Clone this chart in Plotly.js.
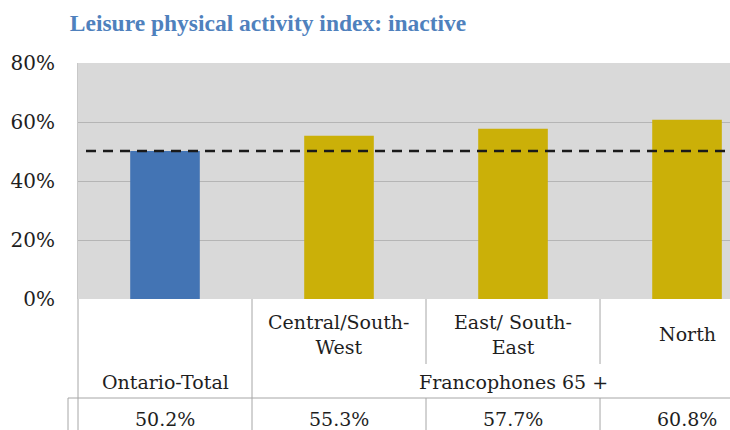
<!DOCTYPE html>
<html>
<head>
<meta charset="utf-8">
<script src="https://cdn.plot.ly/plotly-3.0.1.min.js"></script>
<style>html,body{margin:0;padding:0;background:#fff;}#chart{width:730px;height:430px;}</style>
</head>
<body>
<div id="chart"></div>
<script>
// ---- data ----
var categories = ["Ontario-Total", "Central/South-West", "East/ South-East", "North"];
var categoryLabels = ["Ontario-Total", "Central/South-<br>West", "East/ South-<br>East", "North"];
var values = [50.2, 55.3, 57.7, 60.8];
var groupLabel = "Francophones 65 +";
var referenceValue = 50.2; // Ontario-Total
var yTicks = [0, 20, 40, 60, 80];

// ---- layout constants ----
var W = 730, H = 430;
var mL = 78, mR = 0, mT = 63, mB = 131;
var plotH = H - mT - mB;
var xRange = [-0.5, 3.247];
function px(i) { return (i - xRange[0]) / (xRange[1] - xRange[0]); } // category index -> paper x
function py(p) { return (H - mB - p) / plotH; }                         // pixel y -> paper y

var serif = "DejaVu Serif, Liberation Serif, serif";
var textColor = "#1E1E1E";
var lineColor = "#A6A6A6";

var trace = {
  type: "bar",
  x: categories,
  y: values,
  width: 0.4,
  marker: { color: ["#4374B4", "#CBB008", "#CBB008", "#CBB008"], line: { width: 0 } },
  hoverinfo: "none"
};

var shapes = [];
// reference dashed line
shapes.push({ type: "line", xref: "paper", yref: "y", x0: (86 - mL) / (W - mL), x1: 1, y0: referenceValue, y1: referenceValue,
  line: { color: "#1A1A1A", width: 2.5, dash: "10px,7px" }, layer: "above" });
// table lines
function vline(xp, y0p, y1p) {
  shapes.push({ type: "line", xref: "paper", yref: "paper", x0: xp, x1: xp, y0: py(y0p), y1: py(y1p), line: { color: lineColor, width: 1 } });
}
vline(px(-0.5), 299, 430);
vline(px(0.5), 299, 430);
vline(px(1.5), 299, 364);
vline(px(2.5), 299, 364);
vline(px(1.5), 398, 430);
vline(px(2.5), 398, 430);
vline(-10 / (W - mL), 398, 430);
shapes.push({ type: "line", xref: "paper", yref: "paper", x0: -10 / (W - mL), x1: 1, y0: py(398), y1: py(398), line: { color: lineColor, width: 1 } });

var annotations = [];
var labelFont = { family: serif, size: 19, color: textColor };
// category labels
for (var i = 1; i < categories.length; i++) {
  annotations.push({ xref: "x", yref: "paper", x: i, y: py(334), text: categoryLabels[i], showarrow: false,
    xanchor: "center", yanchor: "middle", font: labelFont, align: "center" });
}
annotations.push({ xref: "x", yref: "paper", x: 0, y: py(382), text: categoryLabels[0], showarrow: false,
  xanchor: "center", yanchor: "middle", font: labelFont });
annotations.push({ xref: "x", yref: "paper", x: 2, y: py(382), text: groupLabel, showarrow: false,
  xanchor: "center", yanchor: "middle", font: labelFont });
// data row
for (var j = 0; j < values.length; j++) {
  annotations.push({ xref: "x", yref: "paper", x: j, y: py(419), text: values[j].toFixed(1) + "%", showarrow: false,
    xanchor: "center", yanchor: "middle", font: labelFont });
}

var layout = {
  width: W, height: H,
  margin: { l: mL, r: mR, t: mT, b: mB, pad: 0 },
  paper_bgcolor: "#ffffff",
  plot_bgcolor: "#D9D9D9",
  showlegend: false,
  title: { text: "<b>Leisure physical activity index: inactive</b>", xref: "container", yref: "container",
    x: 268 / W, y: 1 - 23 / H, xanchor: "center", yanchor: "middle",
    font: { family: "Liberation Serif, serif", size: 23.5, color: "#4F81BD" } },
  xaxis: { type: "category", range: xRange, showticklabels: false, showgrid: false, zeroline: false,
    showline: false, ticks: "", fixedrange: true },
  yaxis: { range: [0, 80], tickvals: yTicks, ticktext: yTicks.map(function (v) { return v + "%"; }),
    showgrid: true, gridcolor: "#B5B5B5", gridwidth: 1, zeroline: false,
    showline: true, linecolor: "#C8C8C8", linewidth: 1,
    ticks: "", ticklabelstandoff: 18, tickfont: { family: serif, size: 20, color: textColor }, fixedrange: true },
  shapes: shapes,
  annotations: annotations
};

Plotly.newPlot("chart", [trace], layout, { displayModeBar: false, staticPlot: true });
</script>
</body>
</html>
